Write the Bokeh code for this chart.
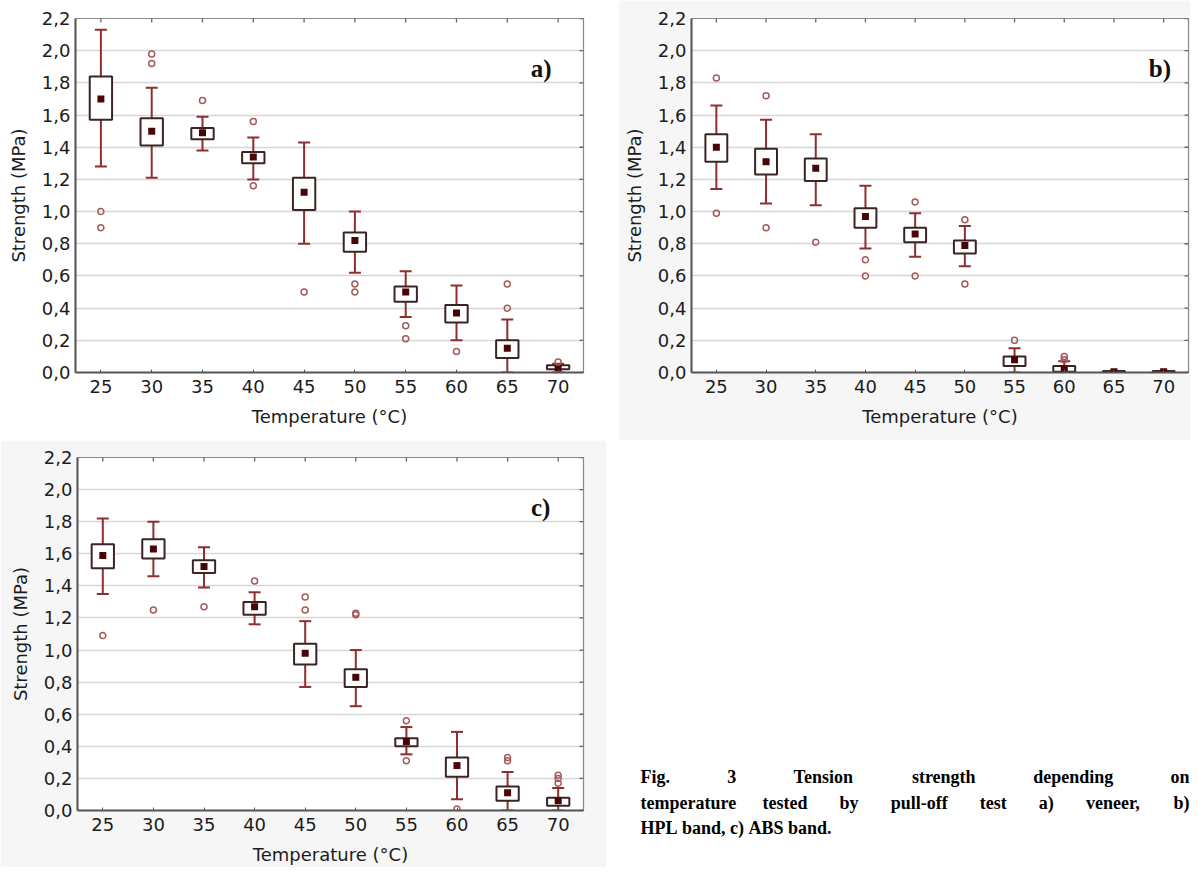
import math
from bokeh.plotting import figure
from bokeh.models import Range1d, FactorRange, Label, FixedTicker, ColumnDataSource, Spacer
from bokeh.layouts import column, row
from bokeh.embed import file_html
from bokeh.resources import INLINE

# ---------------- data ----------------
temps = ["25", "30", "35", "40", "45", "50", "55", "60", "65", "70"]
y_ticks = [0.0, 0.2, 0.4, 0.6, 0.8, 1.0, 1.2, 1.4, 1.6, 1.8, 2.0, 2.2]
y_tick_labels = ["0,0", "0,2", "0,4", "0,6", "0,8", "1,0", "1,2", "1,4", "1,6", "1,8", "2,0", "2,2"]

# a) veneer
a_mean = [1.70, 1.50, 1.49, 1.34, 1.12, 0.82, 0.50, 0.37, 0.15, 0.03]
a_q_hi = [1.84, 1.58, 1.52, 1.37, 1.21, 0.87, 0.535, 0.42, 0.20, 0.045]
a_q_lo = [1.57, 1.41, 1.45, 1.30, 1.01, 0.75, 0.44, 0.31, 0.09, 0.02]
a_w_hi = [2.13, 1.77, 1.59, 1.46, 1.43, 1.00, 0.63, 0.54, 0.33, 0.055]
a_w_lo = [1.28, 1.21, 1.38, 1.20, 0.80, 0.62, 0.345, 0.20, 0.0, 0.0]
a_out_x = ["25", "25", "30", "30", "35", "40", "40", "45", "50", "50", "55", "55", "60", "65", "65", "70"]
a_out_y = [1.00, 0.90, 1.98, 1.92, 1.69, 1.56, 1.16, 0.50, 0.55, 0.50, 0.29, 0.21, 0.13, 0.55, 0.40, 0.065]

# b) HPL band
b_mean = [1.40, 1.31, 1.27, 0.97, 0.86, 0.79, 0.08, 0.02, 0.005, 0.005]
b_q_hi = [1.48, 1.39, 1.33, 1.02, 0.90, 0.82, 0.10, 0.04, 0.01, 0.01]
b_q_lo = [1.31, 1.23, 1.19, 0.90, 0.81, 0.74, 0.04, 0.005, 0.0, 0.0]
b_w_hi = [1.66, 1.57, 1.48, 1.16, 0.99, 0.91, 0.15, 0.07, 0.01, 0.01]
b_w_lo = [1.14, 1.05, 1.04, 0.77, 0.72, 0.66, 0.0, 0.0, 0.0, 0.0]
b_out_x = ["25", "25", "30", "30", "35", "40", "40", "45", "45", "50", "50", "55", "60", "60"]
b_out_y = [1.83, 0.99, 1.72, 0.90, 0.81, 0.70, 0.60, 1.06, 0.60, 0.95, 0.55, 0.20, 0.10, 0.08]

# c) ABS band
c_mean = [1.59, 1.63, 1.52, 1.27, 0.98, 0.83, 0.43, 0.28, 0.11, 0.06]
c_q_hi = [1.66, 1.69, 1.56, 1.30, 1.04, 0.88, 0.45, 0.33, 0.15, 0.08]
c_q_lo = [1.51, 1.57, 1.48, 1.22, 0.91, 0.77, 0.40, 0.21, 0.06, 0.03]
c_w_hi = [1.82, 1.80, 1.64, 1.36, 1.18, 1.00, 0.52, 0.49, 0.24, 0.14]
c_w_lo = [1.35, 1.46, 1.39, 1.16, 0.77, 0.65, 0.35, 0.07, 0.0, 0.0]
c_out_x = ["25", "30", "35", "40", "45", "45", "50", "50", "55", "55", "60", "65", "65", "70", "70", "70"]
c_out_y = [1.09, 1.25, 1.27, 1.43, 1.33, 1.25, 1.22, 1.23, 0.56, 0.31, 0.01, 0.33, 0.31, 0.22, 0.20, 0.17]

caption_lines = [
    "Fig. 3 Tension strength depending on",
    "temperature tested by pull-off test a) veneer, b)",
    "HPL band, c) ABS band.",
]

# ---------------- style ----------------
WHISK = "#8e2e2e"
BOXL = "#3a2424"
MEANC = "#4a0606"
OUTC = "#a55a5a"
TICKF = "DejaVu Sans"
Y_MAX = 2.2


def box_panel(tag, tag_x, mean, qhi, qlo, whi, wlo, ox, oy, width, height, mb):
    p = figure(width=width, height=height, x_range=FactorRange(factors=temps),
               y_range=Range1d(0, Y_MAX), output_backend="svg", toolbar_location=None,
               min_border_left=mb[0], min_border_right=mb[1],
               min_border_top=mb[2], min_border_bottom=mb[3])
    p.background_fill_color = "white"
    p.border_fill_color = mb[4]
    src = ColumnDataSource(dict(x=temps, mean=mean, qhi=qhi, qlo=qlo, whi=whi, wlo=wlo))
    p.segment(x0="x", y0="wlo", x1="x", y1="whi", source=src, line_color=WHISK, line_width=2)
    p.scatter(x="x", y="whi", source=src, marker="dash", size=12, line_color=WHISK, line_width=2)
    p.scatter(x="x", y="wlo", source=src, marker="dash", size=12, line_color=WHISK, line_width=2)
    p.vbar(x="x", top="qhi", bottom="qlo", width=0.44, source=src,
           fill_color="white", line_color=BOXL, line_width=2)
    p.scatter(x="x", y="mean", source=src, marker="square", size=7,
              fill_color=MEANC, line_color=None)
    p.scatter(x=ox, y=oy, marker="circle", size=6, fill_color=None,
              line_color=OUTC, line_width=1.5)

    # small inward ticks on the top and right frame edges (clipped halves of dashes)
    p.scatter(x=[float(len(temps))] * len(y_ticks), y=y_ticks, marker="dash", size=8,
              line_color="#666666", line_width=1.3)
    p.scatter(x=temps, y=[Y_MAX] * len(temps), marker="dash", angle=math.pi / 2, size=8,
              line_color="#666666", line_width=1.3)

    p.xgrid.grid_line_color = None
    p.ygrid.grid_line_color = "#d6d6d6"
    p.ygrid.grid_line_width = 1.5
    p.outline_line_color = "#8a8a8a"
    p.outline_line_width = 1.2

    p.yaxis.ticker = FixedTicker(ticks=y_ticks)
    p.yaxis.major_label_overrides = dict(zip(y_ticks, y_tick_labels))
    for ax in (p.xaxis[0], p.yaxis[0]):
        ax.axis_line_color = "#555555"
        ax.axis_line_width = 2
        ax.major_label_text_font = TICKF
        ax.major_label_text_font_size = "18px"
        ax.major_label_text_color = "#1c1c1c"
        ax.axis_label_text_font = TICKF
        ax.axis_label_text_font_size = "18px"
        ax.axis_label_text_font_style = "normal"
        ax.axis_label_text_color = "#1c1c1c"
        ax.minor_tick_line_color = None
    p.yaxis.major_tick_in = 0
    p.yaxis.major_tick_out = 0
    p.yaxis.major_label_standoff = 5
    p.yaxis.axis_label_standoff = 10
    p.xaxis.major_tick_in = 3
    p.xaxis.major_tick_out = 0
    p.xaxis.major_tick_line_color = "#555555"
    p.xaxis.major_label_standoff = 7
    p.xaxis.axis_label_standoff = 10
    p.yaxis.axis_label = "Strength (MPa)"
    p.xaxis.axis_label = "Temperature (°C)"

    p.add_layout(Label(x=tag_x, y=1.89, text=tag, text_font="Liberation Serif",
                       text_font_style="bold", text_font_size="25px",
                       text_baseline="middle", text_color="#111111"))
    return p


pa = box_panel("a)", 8.96, a_mean, a_q_hi, a_q_lo, a_w_hi, a_w_lo, a_out_x, a_out_y,
               618, 440, (75, 35, 18, 68, "white"))
pb = box_panel("b)", 9.2, b_mean, b_q_hi, b_q_lo, b_w_hi, b_w_lo, b_out_x, b_out_y,
               572, 440, (73, 2, 18, 68, "#f6f6f6"))
pc = box_panel("c)", 8.96, c_mean, c_q_hi, c_q_lo, c_w_hi, c_w_lo, c_out_x, c_out_y,
               606, 427, (77, 23, 17, 57, "#f6f6f6"))

# ---------------- caption ----------------
W = {"a": .5, "b": .556, "c": .444, "d": .556, "e": .444, "f": .333, "g": .5, "h": .556,
     "i": .278, "l": .278, "n": .556, "o": .5, "p": .556, "r": .444, "s": .389, "t": .333,
     "u": .556, "v": .5, "y": .5, "F": .611, "H": .778, "P": .611, "L": .667, "A": .722,
     "B": .667, "S": .556, "T": .667, " ": .25, ".": .25, ",": .25, "-": .333, ")": .333,
     "(": .333, "3": .5}
FS = 18
CAP_L, CAP_R = 606, 1190
CAP_TOP, CAP_BOT = 740, 867          # caption figure extent in page pixels
pcap = figure(width=CAP_R - CAP_L, height=CAP_BOT - CAP_TOP, x_range=Range1d(CAP_L, CAP_R),
              y_range=Range1d(CAP_BOT, CAP_TOP),
              x_axis_type=None, y_axis_type=None, output_backend="svg", toolbar_location=None,
              min_border=0)
pcap.grid.grid_line_color = None
pcap.outline_line_color = None
pcap.border_fill_color = "white"
pcap.background_fill_color = "white"
line_left, line_right = 640, 1189
line_y = [776, 802, 827]
for i, line in enumerate(caption_lines):
    words = line.split(" ")
    ww = [sum(W.get(ch, .5) for ch in w) * FS for w in words]
    if i < len(caption_lines) - 1:
        gap = (line_right - line_left - sum(ww)) / (len(words) - 1)
    else:
        gap = W[" "] * FS
    x = line_left
    for w, wd in zip(words, ww):
        pcap.add_layout(Label(x=x, y=line_y[i], text=w, text_font="Liberation Serif",
                              text_font_style="bold", text_font_size=f"{FS}px",
                              text_baseline="middle", text_color="#000000"))
        x += wd + gap

right_col = column(Spacer(width=CAP_R - CAP_L, height=CAP_TOP - 440), pcap)
layout = column(row(pa, pb), row(pc, right_col))
open("out.html", "w").write(file_html(layout, INLINE))
